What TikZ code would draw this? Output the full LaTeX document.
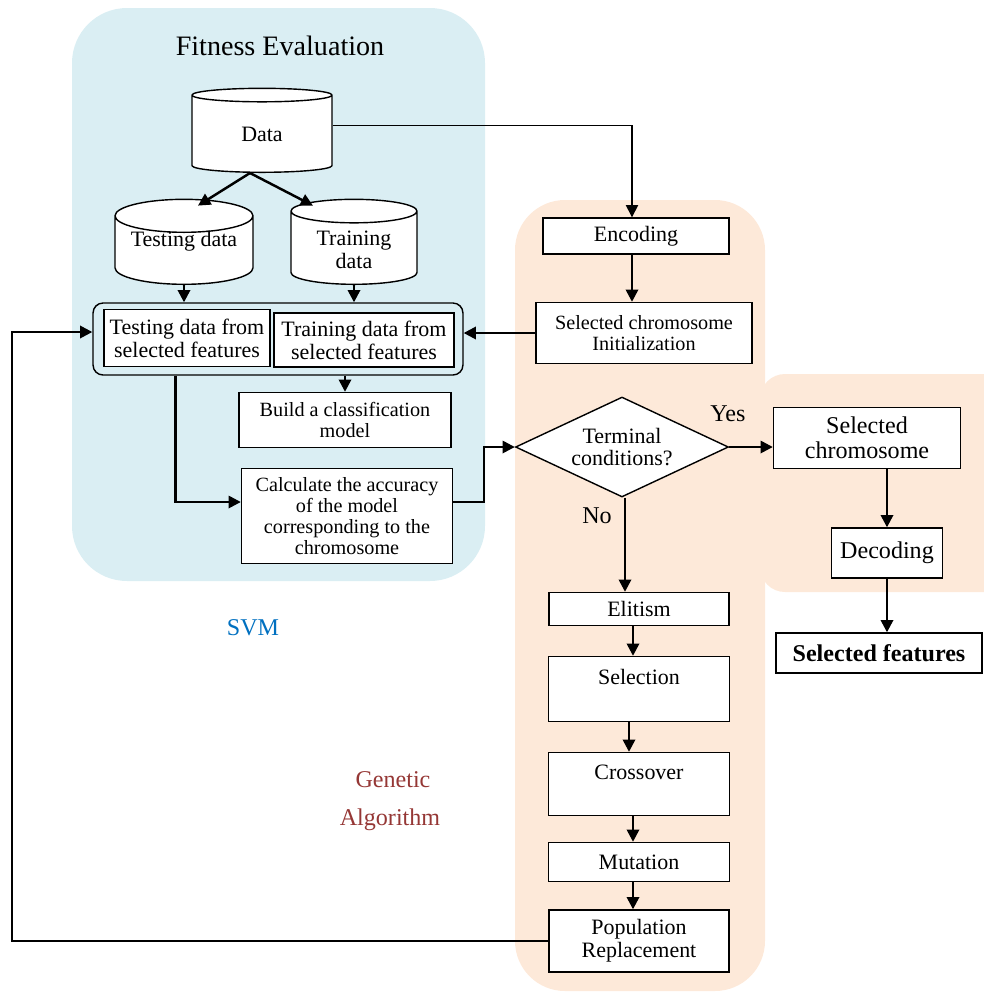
\documentclass[tikz,border=0pt]{standalone}
\usepackage{fontspec}
\setmainfont{Liberation Serif}
\usetikzlibrary{calc,shapes.geometric,arrows.meta}
\definecolor{svmback}{RGB}{218,238,243}
\definecolor{gaback}{RGB}{253,233,217}
\definecolor{svmtext}{RGB}{0,112,192}
\definecolor{gatext}{RGB}{149,55,53}
\tikzset{
	blk/.style={draw, fill=white, line width=0.8pt, align=center, inner sep=1pt},
	db/.style={cylinder, shape border rotate=90, aspect=0.3, draw, fill=white, line width=0.8pt, align=center, inner sep=1pt, anchor=south},
	arr/.style={-{Triangle[length=7pt,width=7pt]}, line width=1.4pt},
	small/.style={font=\fontsize{11.5}{12}\selectfont},
	large/.style={font=\fontsize{13.7}{14.5}\selectfont},
}

\begin{document}
\begin{tikzpicture}[x=0.02cm, y=-0.02cm, font=\fontsize{12.5}{13}\selectfont]
		%%%%% START %%%%%
		\useasboundingbox (0,0) rectangle (984,992);
		\fill[svmback, rounded corners=1.1cm] (72,8) rectangle (485,581);
		\fill[gaback, rounded corners=1cm] (515,200) rectangle (765,991);
		\fill[gaback, rounded corners=0.5cm] (760,374) rectangle (1010,592);
		
		\node[font=\fontsize{16}{17}\selectfont] (title) at (280,46) {Fitness Evaluation};
		
		\node[db, minimum width=2.8cm, minimum height=1.68cm] (data) at (262,173) {Data};
		\node[db, minimum width=2.76cm, minimum height=1.7cm] (testdb) at (184,285) {\raisebox{6pt}[\height][\depth]{Testing data}};
		\node[db, minimum width=2.52cm, minimum height=1.7cm] (traindb) at (354,285) {Training\\data};
		
		\node[draw, line width=0.8pt, rounded corners=0.2cm, minimum width=7.4cm, minimum height=1.44cm] (grp) at (278,339) {};
		\node[blk, minimum width=3.32cm, minimum height=1.14cm] (testsel) at (187,338) {Testing data from\\selected features};
		\node[blk, minimum width=3.6cm, minimum height=1.08cm] (trainsel) at (364,340) {Training data from\\selected features};
		
		\node[blk, small, minimum width=4.24cm, minimum height=1.1cm] (build) at (345,420) {Build a classification\\model};
		\node[blk, small, minimum width=4.22cm, minimum height=1.9cm] (calc) at (347,516) {Calculate the accuracy\\of the model\\corresponding to the\\chromosome};
		
		\node[blk, minimum width=3.72cm, minimum height=0.72cm] (enc) at (636,236) {Encoding};
		\node[blk, small, minimum width=4.32cm, minimum height=1.22cm] (init) at (644,333) {Selected chromosome\\Initialization};
		\node[diamond, draw, fill=white, line width=0.8pt, aspect=2.13, minimum width=4.26cm, minimum height=2cm, inner sep=0pt, align=center] (term) at (622,447) {Terminal\\conditions?};
		
		\node[blk, large, minimum width=3.74cm, minimum height=1.22cm] (selchr) at (867,438) {Selected\\chromosome};
		\node[blk, large, minimum width=2.22cm, minimum height=1cm] (dec) at (887,553) {Decoding};
		\node[blk, large, minimum width=4.12cm, minimum height=0.8cm, font=\fontsize{13.7}{14.5}\selectfont\bfseries] (feat) at (879,653) {Selected features};
		
		\node[blk, minimum width=3.6cm, minimum height=0.66cm] (elit) at (639,609) {Elitism};
		\node[blk, minimum width=3.62cm, minimum height=1.3cm, label={[anchor=north, yshift=-4pt]north:Selection}] (sel) at (639,689) {};
		\node[blk, minimum width=3.62cm, minimum height=1.26cm, label={[anchor=north, yshift=-4pt]north:Crossover}] (cross) at (639,784) {};
		\node[blk, minimum width=3.62cm, minimum height=0.78cm] (mut) at (639,862) {Mutation};
		\node[blk, minimum width=3.6cm, minimum height=1.24cm] (pop) at (639,941) {Population\\Replacement};
		
		\node[large] (yes) at (728,414) {Yes};
		\node[large] (no) at (597,516) {No};
		\node[large, text=svmtext] (svm) at (253,628) {SVM};
		\node[large, text=gatext] (ga1) at (393,780) {Genetic};
		\node[large, text=gatext] (ga2) at (390,820) {Algorithm};
		
		% connectors
		\draw[arr] ($(data.south)+(-12,0)$) -- ($(testdb.north)+(14,7)$);
		\draw[arr] ($(data.south)+(-12,0)$) -- ($(traindb.north)+(-41,7)$);
		\draw[arr, line width=0.8pt] ($(data.east)+(0,-9)$) -| ($(enc.north)+(-4,0)$);
		\draw[arr] (testdb.south) -- (testdb.south |- grp.north);
		\draw[arr] (traindb.south) -- (traindb.south |- grp.north);
		\draw[arr] (build.north |- grp.south) -- (build.north);
		\draw[arr] ($(grp.south west)+(83,0)$) |- ($(calc.west)+(0,-14)$);
		\draw[arr] ($(calc.east)+(0,-14)$) -- ++(31,0) |- (term.west);
		\draw[arr] ($(enc.south)+(-4,0)$) -- ($(enc.south |- init.north)+(-4,0)$);
		\draw[arr] (init.west) -- (init.west -| grp.east);
		\draw[arr] (term.east) -- (term.east -| selchr.west);
		\draw[arr] (dec.north |- selchr.south) -- (dec.north);
		\draw[arr] (dec.south) -- (dec.south |- feat.north);
		\draw[arr] ($(term.south)+(3,0)$) -- ($(term.south |- elit.north)+(3,0)$);
		\draw[arr] ($(elit.south)+(-6,0)$) -- ($(sel.north)+(-6,0)$);
		\draw[arr] ($(sel.south)+(-10,0)$) -- ($(cross.north)+(-10,0)$);
		\draw[arr] ($(cross.south)+(-6,0)$) -- ($(mut.north)+(-6,0)$);
		\draw[arr] ($(mut.south)+(-6,0)$) -- ($(pop.north)+(-6,0)$);
		\coordinate (loop) at (12,332);
		\draw[arr] (pop.west) -| (loop) -- ($(grp.west)+(0,-7)$);
		%%%%% END %%%%%
	\end{tikzpicture}
\end{document}
